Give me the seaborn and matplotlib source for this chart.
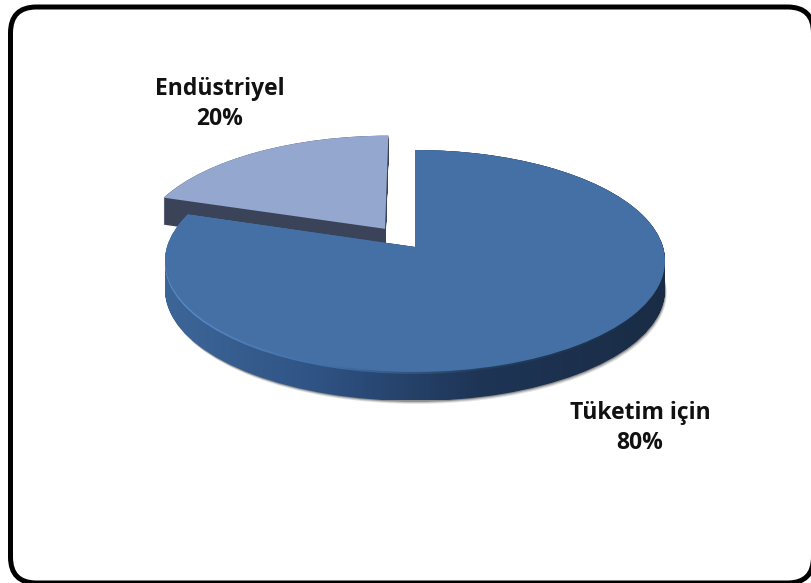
import numpy as np
import matplotlib
matplotlib.use("Agg")
import matplotlib.pyplot as plt
import seaborn as sns
from matplotlib.colors import LinearSegmentedColormap
from matplotlib.patches import FancyBboxPatch, PathPatch
from matplotlib.path import Path
from matplotlib.transforms import Transform

# ---- data ----
categories = ["Tüketim için", "Endüstriyel"]
values = [80, 20]
explode = [0.0, 0.21]
top_colors = ["#4470A6", "#93A7CF"]

sns.set_theme(style="white")
plt.rcParams["font.family"] = ["Open Sans", "DejaVu Sans"]


class Perspective(Transform):
    """Tilted view of the unit-circle pie, in pixel-like data units."""
    input_dims = output_dims = 2
    is_separable = False
    has_inverse = False

    def __init__(self, cx=415, cy=247, a=248, b=109.2, k=0.126):
        super().__init__()
        self.cx, self.cy, self.a, self.b, self.k = cx, cy, a, b, k

    def transform_non_affine(self, xy):
        xy = np.asarray(xy, dtype=float)
        w = 1 + self.k * xy[:, 1]
        return np.column_stack([self.cx + self.a * xy[:, 0] / w,
                                self.cy - self.b * xy[:, 1] / w])


fig = plt.figure(figsize=(8.11, 5.83), dpi=100, facecolor="white")
ax = fig.add_axes([0, 0, 1, 1])

wedges, _ = ax.pie(values, explode=explode, startangle=90, counterclock=False,
                   colors=top_colors, wedgeprops=dict(linewidth=0))
ax.set_aspect("auto")

persp = Perspective()
for w in wedges:
    w.set_transform(persp + ax.transData)


def extrude(path, depths, dx=0.0):
    flat = persp.transform_path(path)
    return Path.make_compound_path(
        *[Path(flat.vertices + [dx, d], flat.codes) for d in depths])


main_path = wedges[0].get_path()
small_path = wedges[1].get_path()

# explicit layer order
wedges[1].set_zorder(3)
wedges[0].set_zorder(8)

# soft outer shadows of the rim
for off, alpha in [(3.0, 0.10), (2.0, 0.16), (1.0, 0.25)]:
    ax.add_patch(PathPatch(extrude(main_path, [29 + off], dx=off * 0.6),
                           fc="#000000", ec="none", alpha=alpha, zorder=5,
                           transform=ax.transData))

# rim of the detached slice
ax.add_patch(PathPatch(extrude(small_path, np.arange(0, 28)), fc="#3B4358",
                       ec="none", zorder=2, transform=ax.transData))

# rim of the main slice, shaded left to right
rim_cmap = LinearSegmentedColormap.from_list(
    "rim", [(0.0, "#3D6698"), (0.30, "#2F5384"), (0.62, "#1E3556"), (1.0, "#1A2C45")])
grad = np.linspace(0, 1, 512)[None, :]
rim = ax.imshow(grad, cmap=rim_cmap, extent=(165, 668, 400, 150), aspect="auto",
                zorder=6, interpolation="bilinear")
rim.set_clip_path(extrude(main_path, np.arange(0, 30)), ax.transData)

# lighter bevel just under the top face
bevel_cmap = LinearSegmentedColormap.from_list(
    "bevel", [(0.0, "#5A8CC8"), (0.35, "#3F6CA3"), (0.62, "#24405F"), (1.0, "#1A2C45")])
bevel = ax.imshow(grad, cmap=bevel_cmap, extent=(165, 668, 400, 150), aspect="auto",
                  zorder=7, interpolation="bilinear")
bevel.set_clip_path(extrude(main_path, [0, 1, 2]), ax.transData)

# rounded frame (white face keeps Agg from clipping its curves at the canvas edge)
ax.add_patch(FancyBboxPatch((10.5 + 26, 7 + 26), 803 - 52, 576 - 52,
                            boxstyle="round,pad=26,rounding_size=26",
                            fc="white", ec="black", lw=3.6, zorder=0,
                            mutation_aspect=1, transform=ax.transData,
                            clip_on=True))

# labels
label_pos = [(640, 428), (220, 104)]
for name, val, (x, y) in zip(categories, values, label_pos):
    ax.text(x, y, f"{name}\n{val}%", ha="center", va="center", fontsize=16.5,
            fontweight="bold", color="#111111", linespacing=1.3, zorder=11)

ax.set_xlim(0, 811)
ax.set_ylim(583, 0)
ax.axis("off")
fig.savefig("out.png", dpi=100, facecolor="white")
